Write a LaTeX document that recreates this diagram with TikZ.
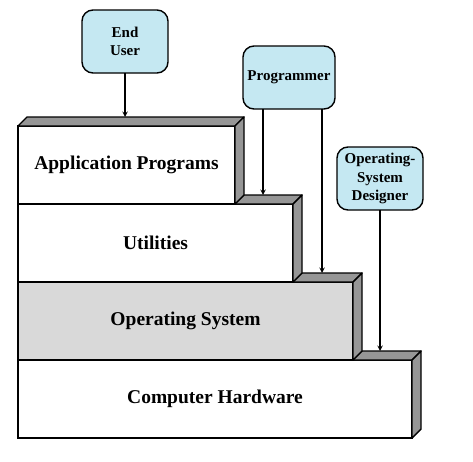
\documentclass[tikz,border=0pt]{standalone}
\usepackage{fontspec}
\setmainfont{Liberation Serif}
\usetikzlibrary{shapes,arrows,positioning,calc}

\definecolor{bevelgray}{RGB}{150,150,150}
\definecolor{osgray}{RGB}{217,217,217}
\definecolor{actorblue}{RGB}{197,232,242}

% side and top faces of a layer
\newcommand{\drawbevel}[1]{%
    \draw [bevel] (#1.north west) -- ++(9,-9) -- ($(#1.north east)+(9,-9)$) -- (#1.north east) -- cycle;
    \draw [bevel] (#1.north east) -- ++(9,-9) -- ($(#1.south east)+(9,-9)$) -- (#1.south east) -- cycle;}

\begin{document}
\begin{tikzpicture}[x=1pt,y=-1pt]
        % Define styles
        \tikzstyle{layer} = [rectangle, draw, fill=white, line width=1.4pt,
            minimum height=78pt, inner sep=0pt, outer sep=0pt,
            font=\fontsize{19.5}{23}\selectfont\bfseries]
        \tikzstyle{bevel} = [draw, fill=bevelgray, line width=1.4pt, line join=round]
        \tikzstyle{actor} = [rectangle, draw, fill=actorblue, line width=1.4pt,
            rounded corners=11pt, align=center, inner sep=0pt, outer sep=0pt,
            minimum width=86pt, minimum height=63pt,
            font=\fontsize{15}{18.5}\selectfont\bfseries]
        \tikzstyle{arrow} = [line width=1.4pt,->,>=stealth]

        \useasboundingbox (0,0) rectangle (473,461);

        % Layers, bottom to top
        \node [layer, minimum width=394pt, anchor=north west] (hw) at (18,360) {Computer Hardware};
        \drawbevel{hw}
        \node [layer, fill=osgray, minimum width=335pt, above right=0pt and 0pt of hw.north west] (os) {Operating System};
        \drawbevel{os}
        \node [layer, minimum width=275pt, above right=0pt and 0pt of os.north west] (util) {Utilities};
        \drawbevel{util}
        \node [layer, minimum width=217pt, above right=0pt and 0pt of util.north west] (app) {Application Programs};
        \drawbevel{app}

        % Users
        \node [actor, above=53pt of app, xshift=-1.5pt] (user) {End\\User};
        \node [actor, minimum width=92pt] (prog) at (289,77.5) {Programmer};
        \node [actor] (osd) at (380,178.5) {Operating-\\System\\Designer};

        % Points on the top faces
        \coordinate (app-top) at ($(app.north west)+(9,-9)$);
        \coordinate (util-top) at ($(util.north west)+(9,-9)$);
        \coordinate (os-top) at ($(os.north west)+(9,-9)$);
        \coordinate (hw-top) at ($(hw.north west)+(9,-9)$);
        \coordinate (prog-a) at ($(prog.south west)+(20,0)$);
        \coordinate (prog-b) at ($(prog.south east)+(-13,0)$);

        % Arrows
        \draw [arrow] (user) -- (user |- app-top);
        \draw [arrow] (prog-a) -- (prog-a |- util-top);
        \draw [arrow] (prog-b) -- (prog-b |- os-top);
        \draw [arrow] (osd) -- (osd |- hw-top);
\end{tikzpicture}
\end{document}
